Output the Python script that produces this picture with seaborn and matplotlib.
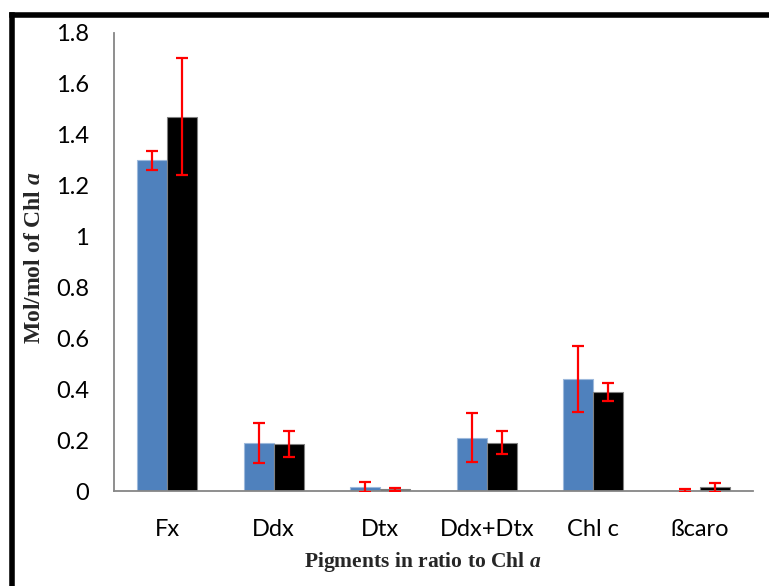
import matplotlib
matplotlib.use("Agg")
import matplotlib.pyplot as plt
from matplotlib.lines import Line2D
from matplotlib.ticker import FuncFormatter
import pandas as pd
import seaborn as sns

# Pigment ratios (mol/mol of Chl a) with standard deviations
pigments = ["Fx", "Ddx", "Dtx", "Ddx+Dtx", "Chl c", "ßcaro"]
series_names = ["Control", "Treatment"]
control_mean = [1.30, 0.19, 0.016, 0.21, 0.44, 0.002]
control_sd = [0.037, 0.078, 0.02, 0.097, 0.13, 0.004]
treatment_mean = [1.47, 0.184, 0.006, 0.19, 0.388, 0.014]
treatment_sd = [0.23, 0.05, 0.005, 0.046, 0.035, 0.019]
y_ticks = [0, 0.2, 0.4, 0.6, 0.8, 1.0, 1.2, 1.4, 1.6, 1.8]

df = pd.DataFrame({
    "pigment": pigments * 2,
    "series": [series_names[0]] * len(pigments) + [series_names[1]] * len(pigments),
    "value": control_mean + treatment_mean,
    "sd": control_sd + treatment_sd,
})

sns.set_style("white")
plt.rcParams["mathtext.fontset"] = "custom"
plt.rcParams["mathtext.it"] = "Liberation Serif:italic:bold"
plt.rcParams["mathtext.rm"] = "Liberation Serif:bold"

fig = plt.figure(figsize=(7.69, 5.86), dpi=100)
ax = fig.add_axes([0.1482, 0.1621, 0.8310, 0.7816])

blue = "#4F81BD"
sns.barplot(data=df, x="pigment", y="value", hue="series", order=pigments,
            hue_order=series_names, palette=[blue, "#000000"], width=0.566,
            errorbar=None, legend=False, ax=ax, saturation=1)

for patch in ax.patches:
    fc = matplotlib.colors.to_hex(patch.get_facecolor())
    patch.set_edgecolor("#9DB9DC" if fc.lower() == blue.lower() else "#808080")
    patch.set_linewidth(0.8)

# Error bars centred on each bar
for container, name in zip(ax.containers, series_names):
    sub = df[df["series"] == name].set_index("pigment").loc[pigments]
    xs = [b.get_x() + b.get_width() / 2 for b in container]
    ax.errorbar(xs, sub["value"], yerr=sub["sd"], fmt="none", ecolor="#FF0000",
                elinewidth=1.6, capsize=4.5, capthick=1.6, zorder=5)

ax.set_ylim(0, 1.8)
ax.set_xlim(-0.5, len(pigments) - 0.5)
ax.set_yticks(y_ticks)
ax.yaxis.set_major_formatter(FuncFormatter(lambda v, p: f"{v:g}"))

for side in ["top", "right"]:
    ax.spines[side].set_visible(False)
for side in ["left", "bottom"]:
    ax.spines[side].set_color("#868686")
    ax.spines[side].set_linewidth(1.3)

ax.tick_params(axis="y", direction="out", length=6, width=1.2, color="#868686",
               labelsize=17, pad=12)
ax.tick_params(axis="x", length=0, labelsize=17, pad=20)
for lab in ax.get_xticklabels() + ax.get_yticklabels():
    lab.set_fontfamily("Lato")
    lab.set_color("#000000")

ax.set_xlabel("")
ax.set_ylabel("")
fig.text(0.550, 0.041, r"Pigments in ratio to Chl $\mathit{a}$", ha="center",
         va="center", fontsize=15.5, fontweight="bold", family="Liberation Serif")
fig.text(0.0455, 0.560, r"Mol/mol of Chl $\mathit{a}$", ha="center", va="center",
         rotation=90, fontsize=17, fontweight="bold", family="Liberation Serif")

# Heavy frame along the top and left edges
fig.add_artist(Line2D([0.015, 0.015], [0.0, 0.975], transform=fig.transFigure,
                      color="black", linewidth=4, solid_capstyle="projecting"))
fig.add_artist(Line2D([0.015, 1.0], [0.975, 0.975], transform=fig.transFigure,
                      color="black", linewidth=4, solid_capstyle="projecting"))

fig.savefig("out.png", dpi=100)
